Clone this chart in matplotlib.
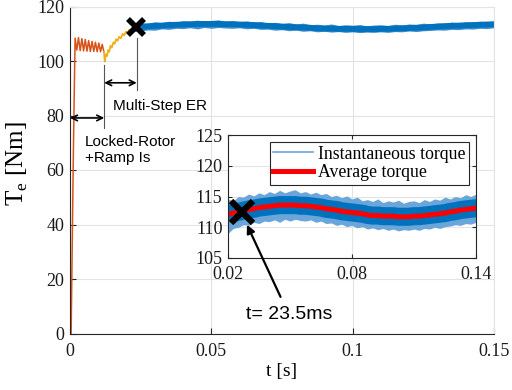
import numpy as np
import matplotlib
matplotlib.use('Agg')
import matplotlib.pyplot as plt
from matplotlib.lines import Line2D

# ---------------- data ----------------
# Locked-rotor + ramp Is phase (orange-red)
t_lr = [0.0004, 0.0012, 0.0018, 0.0024, 0.0030, 0.0036, 0.0042, 0.0048, 0.0054,
        0.0060, 0.0066, 0.0072, 0.0078, 0.0084, 0.0090, 0.0096, 0.0102, 0.0108,
        0.0114, 0.0120]
te_lr = [0.0, 67.0, 108.4, 104.0, 108.6, 103.8, 108.2, 103.7, 107.9,
         103.6, 107.5, 103.5, 107.2, 103.5, 106.9, 103.4, 106.6, 103.4,
         106.1, 103.3]

# Multi-step ER phase (yellow)
t_er = [0.0120, 0.0123, 0.0127, 0.0131, 0.0135, 0.0139, 0.0143, 0.0148, 0.0153,
        0.0158, 0.0163, 0.0168, 0.0174, 0.0180, 0.0186, 0.0192, 0.0198, 0.0204,
        0.0210, 0.0216, 0.0222, 0.0228, 0.0236]
te_er = [103.3, 99.8, 102.5, 101.8, 104.0, 103.4, 105.6, 104.9, 106.8,
         106.3, 108.0, 107.4, 108.9, 108.3, 110.0, 109.4, 110.8, 110.3,
         111.5, 111.0, 112.1, 111.7, 112.6]

# Steady state (instantaneous torque band + average torque)
t_ss = np.linspace(0.02, 0.15, 53)
te_avg = [112.1, 112.3, 112.5, 112.7, 112.9, 113.0, 113.2, 113.3, 113.4, 113.5,
          113.6, 113.6, 113.6, 113.6, 113.5, 113.5, 113.4, 113.3, 113.2, 113.0,
          112.9, 112.8, 112.6, 112.5, 112.4, 112.3, 112.2, 112.0, 111.9, 111.9,
          111.8, 111.8, 111.8, 111.7, 111.7, 111.7, 111.8, 111.8, 111.9, 112.0,
          112.1, 112.2, 112.3, 112.5, 112.6, 112.8, 112.9, 113.0, 113.1, 113.2,
          113.3, 113.4, 113.5]
te_hi = [114.6, 114.3, 115.0, 114.9, 115.4, 115.1, 115.6, 115.3, 115.8, 115.5,
         116.0, 115.6, 115.9, 116.1, 115.6, 115.8, 115.4, 115.7, 115.3, 115.5,
         115.0, 115.2, 114.8, 115.1, 114.6, 114.9, 114.3, 114.5, 114.2, 114.6,
         114.0, 114.3, 114.1, 114.4, 113.9, 114.2, 114.3, 114.0, 114.5, 114.2,
         114.6, 114.4, 114.9, 114.6, 115.0, 114.8, 115.3, 115.0, 115.4, 115.2,
         115.6, 115.3, 115.7]
te_lo = [109.0, 109.8, 110.0, 110.4, 110.3, 110.8, 110.6, 111.0, 110.9, 111.2,
         110.8, 111.3, 111.0, 111.3, 111.1, 111.0, 111.2, 110.8, 111.0, 110.6,
         110.7, 110.3, 110.5, 110.1, 110.3, 109.9, 110.1, 109.7, 109.9, 109.6,
         109.8, 109.5, 109.7, 109.4, 109.6, 109.5, 109.7, 109.5, 109.8, 109.7,
         110.0, 109.8, 110.1, 110.2, 110.4, 110.3, 110.6, 110.5, 110.8, 110.7,
         111.0, 110.9, 111.2]

# markers / annotations
t_switch = 0.0121
t_sync = 0.0236
x_mark_main = (0.0235, 112.5)
x_mark_inset = (0.027, 112.4)

x_ticks = [0, 0.05, 0.1, 0.15]
x_ticklabels = ['0', '0.05', '0.1', '0.15']
y_ticks = [0, 20, 40, 60, 80, 100, 120]
xi_ticks = [0.02, 0.08, 0.14]
xi_ticklabels = ['0.02', '0.08', '0.14']
yi_ticks = [105, 110, 115, 120, 125]

# ---------------- style ----------------
C_RED = '#D95319'
C_YEL = '#EDB120'
C_BLUE = '#0072BD'
C_LBLUE = '#6aa6da'
C_AX = '#262626'
C_GRID = '#e3e3e3'
SERIF = ['Liberation Serif', 'DejaVu Serif']
SANS = ['Liberation Sans', 'DejaVu Sans']

plt.rcParams['font.family'] = SERIF
plt.rcParams['mathtext.fontset'] = 'custom'
plt.rcParams['mathtext.rm'] = 'Liberation Serif'

fig = plt.figure(figsize=(5.12, 3.9), dpi=100)
ax = fig.add_axes([70/512, 1-333.5/390, 424/512, 327/390])

ax.set_xlim(0, 0.15)
ax.set_ylim(0, 120)
ax.set_xticks(x_ticks)
ax.set_xticklabels(x_ticklabels)
ax.set_yticks(y_ticks)
ax.grid(True, color=C_GRID, lw=0.8)
ax.set_axisbelow(True)
for s in ['top', 'right']:
    ax.spines[s].set_color(C_GRID)
for s in ['left', 'bottom']:
    ax.spines[s].set_color(C_AX)
    ax.spines[s].set_linewidth(0.8)
ax.tick_params(direction='in', length=4, width=0.8, color=C_AX,
               labelsize=13, labelcolor='#1a1a1a')
ax.tick_params(axis='x', pad=7)
ax.tick_params(axis='y', pad=4)

ax.plot(t_lr, te_lr, color=C_RED, lw=1.1)
ax.plot(t_er, te_er, color=C_YEL, lw=1.3)
m = t_ss >= 0.0225
ax.fill_between(t_ss[m], np.array(te_lo)[m] + 1.0, np.array(te_hi)[m] - 1.0,
                color='#3f8ed0', lw=0)
ax.plot(t_ss[m], np.array(te_avg)[m], color=C_BLUE, lw=4.2, solid_capstyle='butt')
ax.plot(*x_mark_main, marker='x', color='k', ms=12, mew=4, zorder=5)

ax.set_xlabel('t [s]', fontsize=14, labelpad=2)
ax.set_ylabel(r'T$_\mathregular{e}$ [Nm]', fontsize=18)
ax.yaxis.set_label_coords(-0.095, 0.52)

# phase markers
ax.plot([t_switch, t_switch], [98.5, 75.5], color='#555555', lw=0.8)
ax.plot([t_sync, t_sync], [108.5, 89.5], color='#555555', lw=0.8)
ax.annotate('', xy=(0, 79.1), xytext=(t_switch, 79.1),
            arrowprops=dict(arrowstyle='<->', color='k', lw=1.2,
                            shrinkA=0, shrinkB=0, mutation_scale=10))
ax.annotate('', xy=(t_switch, 92.0), xytext=(t_sync, 92.0),
            arrowprops=dict(arrowstyle='<->', color='k', lw=1.2,
                            shrinkA=0, shrinkB=0, mutation_scale=10))
ax.text(0.0152, 83.5, 'Multi-Step ER', family=SANS, fontsize=11,
        ha='left', va='center')
ax.text(0.0053, 73.0, 'Locked-Rotor\n+Ramp Is', family=SANS, fontsize=11,
        ha='left', va='top', linespacing=1.25)

# ---------------- inset ----------------
axi = fig.add_axes([228/512, 1-258/390, 248/512, 123/390])
axi.set_xlim(0.02, 0.14)
axi.set_ylim(105, 125)
axi.set_xticks(xi_ticks)
axi.set_xticklabels(xi_ticklabels)
axi.set_yticks(yi_ticks)
axi.grid(True, color=C_GRID, lw=0.8)
axi.set_axisbelow(True)
for s in axi.spines.values():
    s.set_color(C_AX)
    s.set_linewidth(0.8)
axi.tick_params(direction='in', length=3, width=0.8, color=C_AX,
                labelsize=13, labelcolor='#1a1a1a', top=True, right=True)
axi.tick_params(axis='x', pad=6)
axi.tick_params(axis='y', pad=4)

axi.fill_between(t_ss, te_lo, te_hi, color=C_LBLUE, lw=0)
axi.plot(t_ss, te_avg, color=C_BLUE, lw=13, solid_capstyle='butt')
axi.plot(t_ss, te_avg, color='#ff0000', lw=3.6)
axi.plot(*x_mark_inset, marker='x', color='k', ms=16, mew=4.5, zorder=5)

handles = [Line2D([], [], color=C_LBLUE, lw=1.2),
           Line2D([], [], color='#ff0000', lw=3.6)]
leg = axi.legend(handles, ['Instantaneous torque', 'Average torque'],
                 loc='upper right', fontsize=12.8, handlelength=2.2,
                 handletextpad=0.3, labelspacing=0.1, borderpad=0.2,
                 borderaxespad=0.4, fancybox=False, framealpha=1,
                 edgecolor=C_AX)
leg.get_frame().set_linewidth(0.8)

axi.annotate('t= 23.5ms', xy=(0.0292, 110.4), xycoords='data',
             xytext=(0.0775, 7.0), textcoords=ax.transData,
             family=SANS, fontsize=14, ha='center', va='center',
             annotation_clip=False,
             arrowprops=dict(arrowstyle='-|>', color='k', lw=1.6,
                             mutation_scale=12, shrinkA=5, shrinkB=0,
                             relpos=(0.45, 1.0)))

fig.savefig('out.png', dpi=100)
